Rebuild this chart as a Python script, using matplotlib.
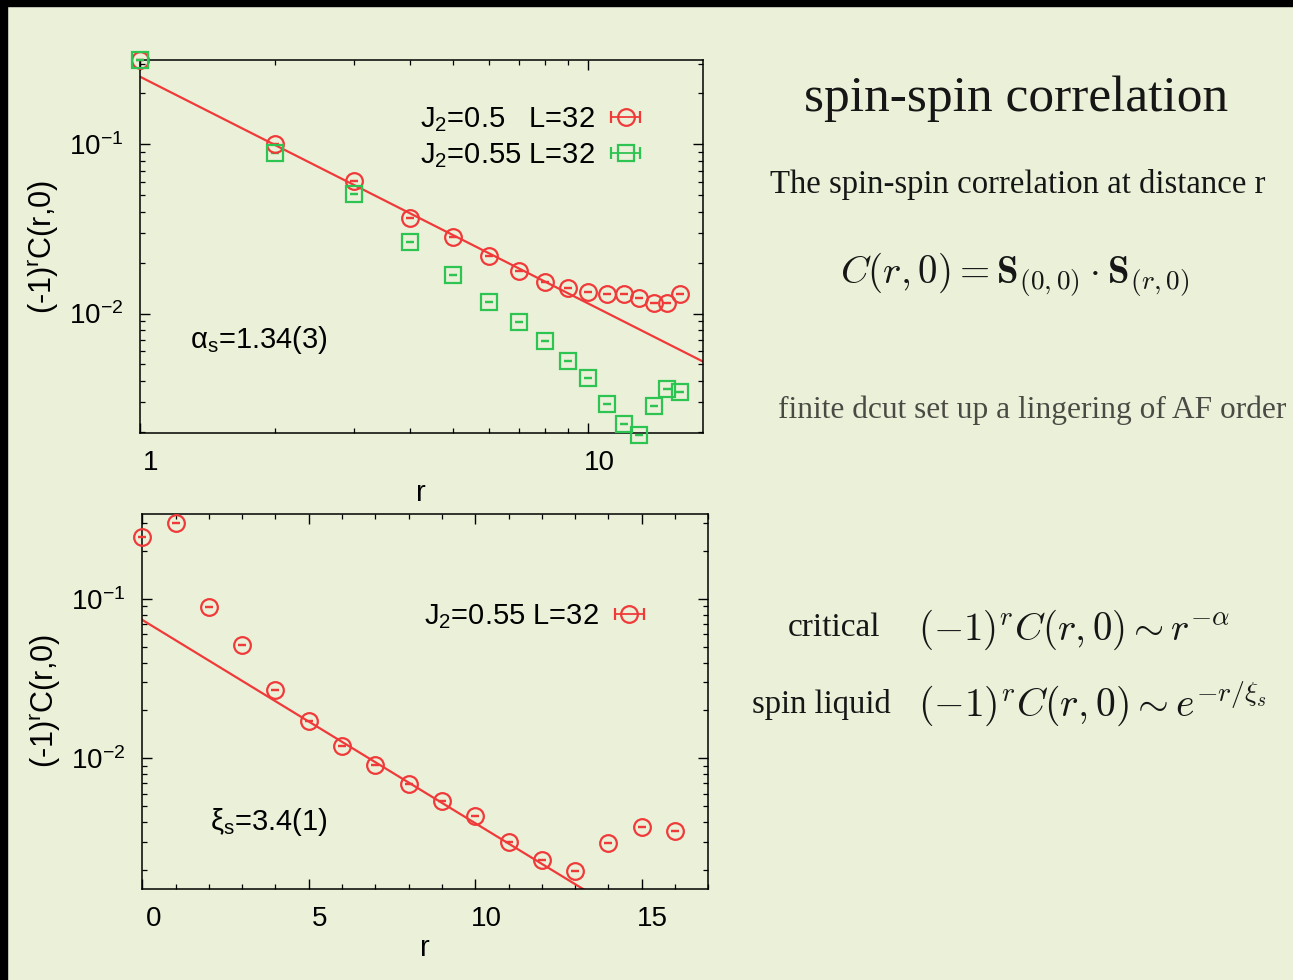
import numpy as np
import matplotlib
matplotlib.use("Agg")
import matplotlib.pyplot as plt
from matplotlib import ticker, transforms
from matplotlib.patches import Rectangle

# ---------------- data ----------------
r_top = [1, 2, 3, 4, 5, 6, 7, 8, 9, 10, 11, 12, 13, 14, 15, 16]
corr_j2_050 = [0.315, 0.1005, 0.0609, 0.0365, 0.0282, 0.0218, 0.0178, 0.0153,
               0.01425, 0.01343, 0.0130, 0.01313, 0.01236, 0.01161, 0.01156, 0.01313]
corr_j2_055 = [0.313, 0.0892, 0.0508, 0.0265, 0.01686, 0.01172, 0.00892, 0.00689,
               0.00525, 0.00418, 0.00293, 0.00223, 0.00192, 0.00286, 0.00360, 0.00344]

r_bot = [0, 1, 2, 3, 4, 5, 6, 7, 8, 9, 10, 11, 12, 13, 14, 15, 16]
corr_bot = [0.246, 0.303, 0.0894, 0.0516, 0.0269, 0.0172, 0.0120, 0.00912, 0.00693,
            0.00542, 0.00434, 0.00297, 0.00229, 0.00195, 0.00293, 0.00369, 0.00348]

# fit parameters
pow_amp, pow_alpha = 0.251, 1.34        # power-law fit, top panel
exp_amp, exp_xi = 0.0741, 3.4           # exponential fit, bottom panel
fit_r_top = [1, 18]
fit_r_bot = [0, 17]

legend_top = ["J$_2$=0.5   L=32", "J$_2$=0.55 L=32"]
legend_bot = "J$_2$=0.55 L=32"

RED = "#f03a3a"
GREEN = "#2ec452"
BG = "#ebf0d8"

plt.rcParams.update({
    "font.family": ["Liberation Sans", "DejaVu Sans"],
    "mathtext.fontset": "custom",
    "mathtext.rm": "Liberation Sans",
    "mathtext.it": "Liberation Sans:italic",
    "mathtext.bf": "Liberation Sans:bold",
    "axes.linewidth": 1.1,
})

fig = plt.figure(figsize=(12.93, 9.8), dpi=100, facecolor=BG)

W, H = 1293.0, 980.0
def ax_rect(x0, y0, x1, y1):
    return [x0 / W, 1 - y1 / H, (x1 - x0) / W, (y1 - y0) / H]

ax1 = fig.add_axes(ax_rect(140, 60, 702.5, 433.3))
ax2 = fig.add_axes(ax_rect(142.3, 514, 708.3, 889))
for ax in (ax1, ax2):
    ax.set_facecolor("none")
    ax.tick_params(which="both", direction="in", top=True, right=True,
                   labelsize=20, colors="black")
    ax.tick_params(which="major", length=7, width=1.0)
    ax.tick_params(which="minor", length=3.5, width=0.9)
    ax.tick_params(axis="x", pad=12)
    ax.tick_params(axis="y", pad=12)

MS_O, MS_S = 12, 11

def style_points(ax, x, y, marker, color, ms):
    ax.errorbar(x, y, yerr=np.zeros(len(y)), fmt=marker, mfc="none", mec=color,
                ms=ms, mew=1.6, ecolor=color, elinewidth=1.2, capsize=2.6,
                capthick=1.4, linestyle="none", clip_on=False, zorder=3)

def proxy(ax, marker, color, ms, label):
    return ax.errorbar([np.nan], [np.nan], xerr=[0.0], fmt=marker, mfc="none",
                       mec=color, ms=ms, mew=1.6, ecolor=color, elinewidth=1.3,
                       capsize=4, capthick=1.4, label=label)

# ---------------- top panel ----------------
ax1.set_xscale("log")
ax1.set_yscale("log")
fit_top = [pow_amp * rr ** (-pow_alpha) for rr in fit_r_top]
ax1.plot(fit_r_top, fit_top, color=RED, lw=1.6, zorder=2)
style_points(ax1, r_top, corr_j2_050, "o", RED, MS_O)
style_points(ax1, r_top, corr_j2_055, "s", GREEN, MS_S)
ax1.set_xlim(1, 18)
ax1.set_ylim(0.00196, 0.315)
ax1.xaxis.set_major_locator(ticker.FixedLocator([1, 10]))
ax1.xaxis.set_major_formatter(ticker.FixedFormatter(["1", "10"]))
ax1.xaxis.set_minor_locator(ticker.LogLocator(base=10, subs=np.arange(2, 10)))
ax1.xaxis.set_minor_formatter(ticker.NullFormatter())
ax1.yaxis.set_major_locator(ticker.LogLocator(base=10, numticks=10))
ax1.yaxis.set_minor_locator(ticker.LogLocator(base=10, subs=np.arange(2, 10), numticks=10))
ax1.yaxis.set_minor_formatter(ticker.NullFormatter())
ax1.set_xlabel("r", fontsize=21, labelpad=2)
ax1.set_ylabel("(-1)$^{\\mathrm{r}}$C(r,0)", fontsize=22, labelpad=6)
h1 = proxy(ax1, "o", RED, MS_O, legend_top[0])
h2 = proxy(ax1, "s", GREEN, MS_S, legend_top[1])
ax1.legend(handles=[h1, h2], loc="upper right", bbox_to_anchor=(0.897, 0.878),
           frameon=False, fontsize=21, handlelength=1.3, handletextpad=0.4,
           borderpad=0, borderaxespad=0, labelspacing=0.22, markerfirst=False)
ax1.text(0.089, 0.25, "α$_\\mathrm{s}$=1.34(3)", transform=ax1.transAxes,
         fontsize=21, va="center", ha="left")

# ---------------- bottom panel ----------------
r_fit_bot = np.linspace(fit_r_bot[0], fit_r_bot[1], 50)
fit_bot = exp_amp * np.exp(-r_fit_bot / exp_xi)
ax2.set_yscale("log")
ax2.plot(r_fit_bot, fit_bot, color=RED, lw=1.6, zorder=2)
style_points(ax2, r_bot, corr_bot, "o", RED, MS_O)
ax2.set_xlim(0, 17)
ax2.set_ylim(0.00151, 0.343)
ax2.xaxis.set_major_locator(ticker.MultipleLocator(5))
ax2.xaxis.set_minor_locator(ticker.MultipleLocator(1))
ax2.yaxis.set_major_locator(ticker.LogLocator(base=10, numticks=10))
ax2.yaxis.set_minor_locator(ticker.LogLocator(base=10, subs=np.arange(2, 10), numticks=10))
ax2.yaxis.set_minor_formatter(ticker.NullFormatter())
ax2.set_xlabel("r", fontsize=21, labelpad=2)
ax2.set_ylabel("(-1)$^{\\mathrm{r}}$C(r,0)", fontsize=22, labelpad=6)
h3 = proxy(ax2, "o", RED, MS_O, legend_bot)
ax2.legend(handles=[h3], loc="upper right", bbox_to_anchor=(0.894, 0.765),
           frameon=False, fontsize=21, handlelength=1.3, handletextpad=0.4,
           borderpad=0, borderaxespad=0, markerfirst=False)
ax2.text(0.120, 0.179, "ξ$_\\mathrm{s}$=3.4(1)", transform=ax2.transAxes,
         fontsize=21, va="center", ha="left")

# gnuplot-like horizontal offset of x tick labels
offset = transforms.ScaledTranslation(0.11, 0, fig.dpi_scale_trans)
for ax in (ax1, ax2):
    for lab in ax.get_xticklabels():
        lab.set_transform(lab.get_transform() + offset)

# ---------------- slide text ----------------
def fx(x): return x / W
def fy(y): return 1 - y / H
SERIF = ["Liberation Serif", "DejaVu Serif"]
INK = "#161616"
fig.text(fx(1016), fy(99), "spin-spin correlation", ha="center", va="center",
         family=SERIF, fontsize=37, color=INK)
fig.text(fx(770), fy(184), "The spin-spin correlation at distance r", ha="left",
         va="center", family=SERIF, fontsize=23.6, color=INK)
fig.text(fx(840), fy(274), r"$C(r,0) = \mathbf{S}_{(0,0)} \cdot \mathbf{S}_{(r,0)}$",
         ha="left", va="center", fontsize=28, math_fontfamily="cm", color=INK)
fig.text(fx(778), fy(410), "finite dcut set up a lingering of AF order", ha="left",
         va="center", family=SERIF, fontsize=22.6, color="#4a4a44")
fig.text(fx(788), fy(628), "critical", ha="left", va="center", family=SERIF,
         fontsize=24, color=INK)
fig.text(fx(918), fy(630), r"$(-1)^r C(r,0) \sim r^{-\alpha}$", ha="left",
         va="center", fontsize=28, math_fontfamily="cm", color=INK)
fig.text(fx(752), fy(705), "spin liquid", ha="left", va="center", family=SERIF,
         fontsize=23.5, color=INK)
fig.text(fx(918), fy(704), r"$(-1)^r C(r,0) \sim e^{-r/\xi_s}$", ha="left",
         va="center", fontsize=28.5, math_fontfamily="cm", color=INK)

# dark slide borders
fig.add_artist(Rectangle((0, 1 - 6 / H), 1, 6 / H, transform=fig.transFigure,
                         color="black", zorder=10))
fig.add_artist(Rectangle((0, 0), 7 / W, 1, transform=fig.transFigure,
                         color="black", zorder=10))

fig.savefig("out.png", dpi=100, facecolor=BG)
